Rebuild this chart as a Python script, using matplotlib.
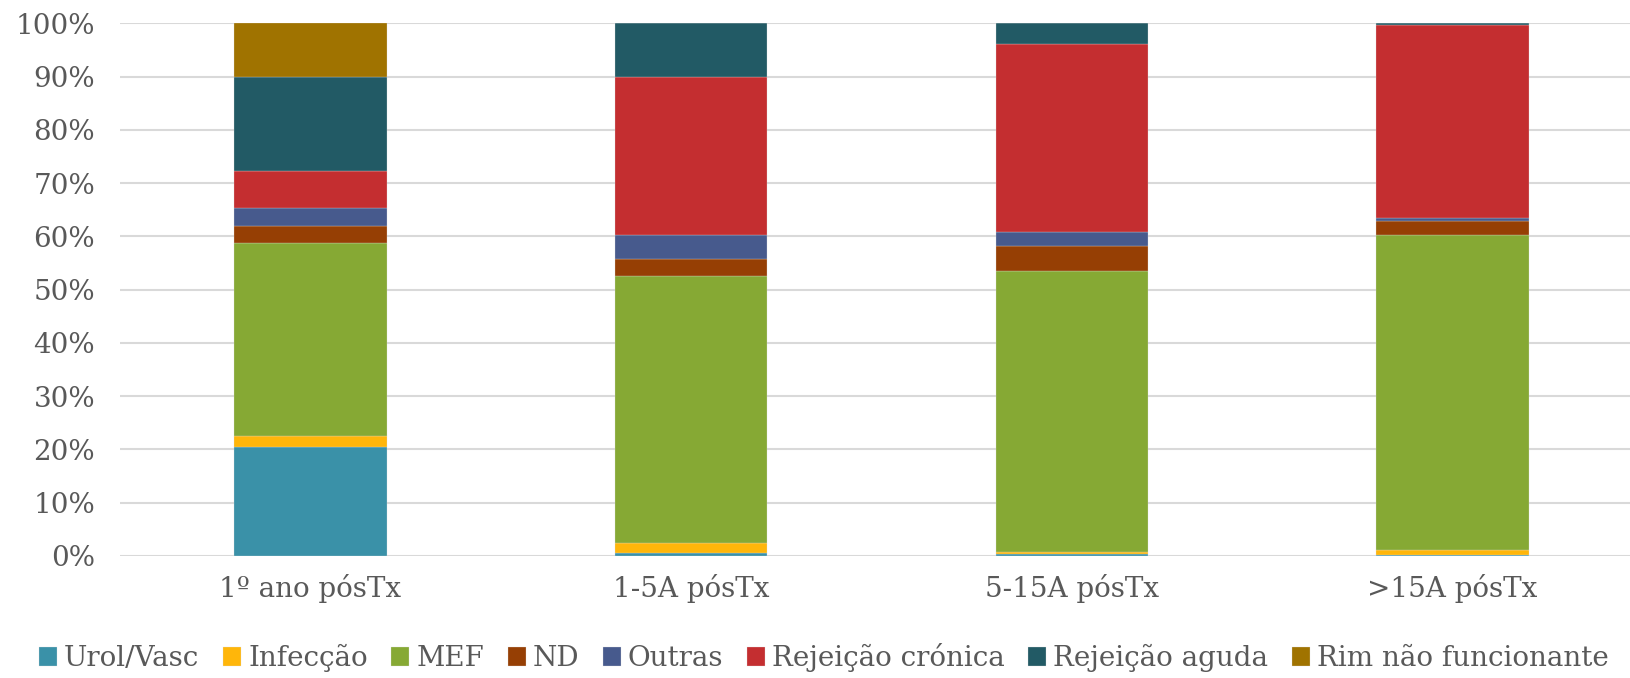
import numpy as np
import matplotlib.pyplot as plt
from matplotlib.ticker import PercentFormatter

# periods after transplant
categories = ['1º ano pósTx', '1-5A pósTx', '5-15A pósTx', '>15A pósTx']

# share of each cause of graft loss (%)
urol_vasc = [20.4, 0.5, 0.4, 0.25]
infeccao = [2.1, 1.9, 0.4, 0.85]
mef = [36.2, 50.1, 52.7, 59.2]
nd = [3.2, 3.2, 4.7, 2.5]
outras = [3.4, 4.6, 2.6, 0.6]
rej_cronica = [7.0, 29.7, 35.4, 36.2]
rej_aguda = [17.7, 10.0, 3.8, 0.4]
rim_nao_func = [10.0, 0.0, 0.0, 0.0]

series = [
    ('Urol/Vasc', urol_vasc, '#3A91A8'),
    ('Infecção', infeccao, '#FFB60A'),
    ('MEF', mef, '#86A934'),
    ('ND', nd, '#963F04'),
    ('Outras', outras, '#475A8D'),
    ('Rejeição crónica', rej_cronica, '#C42E30'),
    ('Rejeição aguda', rej_aguda, '#225A65'),
    ('Rim não funcionante', rim_nao_func, '#A07300'),
]

plt.rcParams['font.family'] = ['DejaVu Serif']
text_col = '#595959'

fig = plt.figure(figsize=(16.3, 6.78), dpi=100)
ax = fig.add_axes([120 / 1630, 0.18, 1523 / 1630, 0.7856])

x = np.arange(len(categories))
bottom = np.zeros(len(categories))
for name, vals, col in series:
    vals = np.array(vals) / 100.0
    ax.bar(x, vals, 0.40, bottom=bottom, color=col, label=name,
           edgecolor='#dddddd', linewidth=0.2, zorder=3)
    bottom += vals

ax.set_xlim(-0.5, len(categories) - 0.5)
ax.set_ylim(0, 1)
ax.set_yticks(np.arange(0, 1.01, 0.1))
ax.yaxis.set_major_formatter(PercentFormatter(1.0, decimals=0))
ax.set_xticks(x)
ax.set_xticklabels(categories)
ax.tick_params(axis='both', length=0, labelsize=20, colors=text_col)
ax.tick_params(axis='x', pad=13)
ax.tick_params(axis='y', pad=18)
ax.grid(axis='y', color='#D9D9D9', linewidth=1.5, zorder=0)
for s in ax.spines.values():
    s.set_visible(False)

leg = fig.legend(loc='center', bbox_to_anchor=(0.5055, 0.03), ncol=8,
                 frameon=False, fontsize=20, handlelength=0.65,
                 handleheight=0.65, handletextpad=0.25, columnspacing=0.85)
for t in leg.get_texts():
    t.set_color(text_col)

fig.savefig('out.png', dpi=100)
